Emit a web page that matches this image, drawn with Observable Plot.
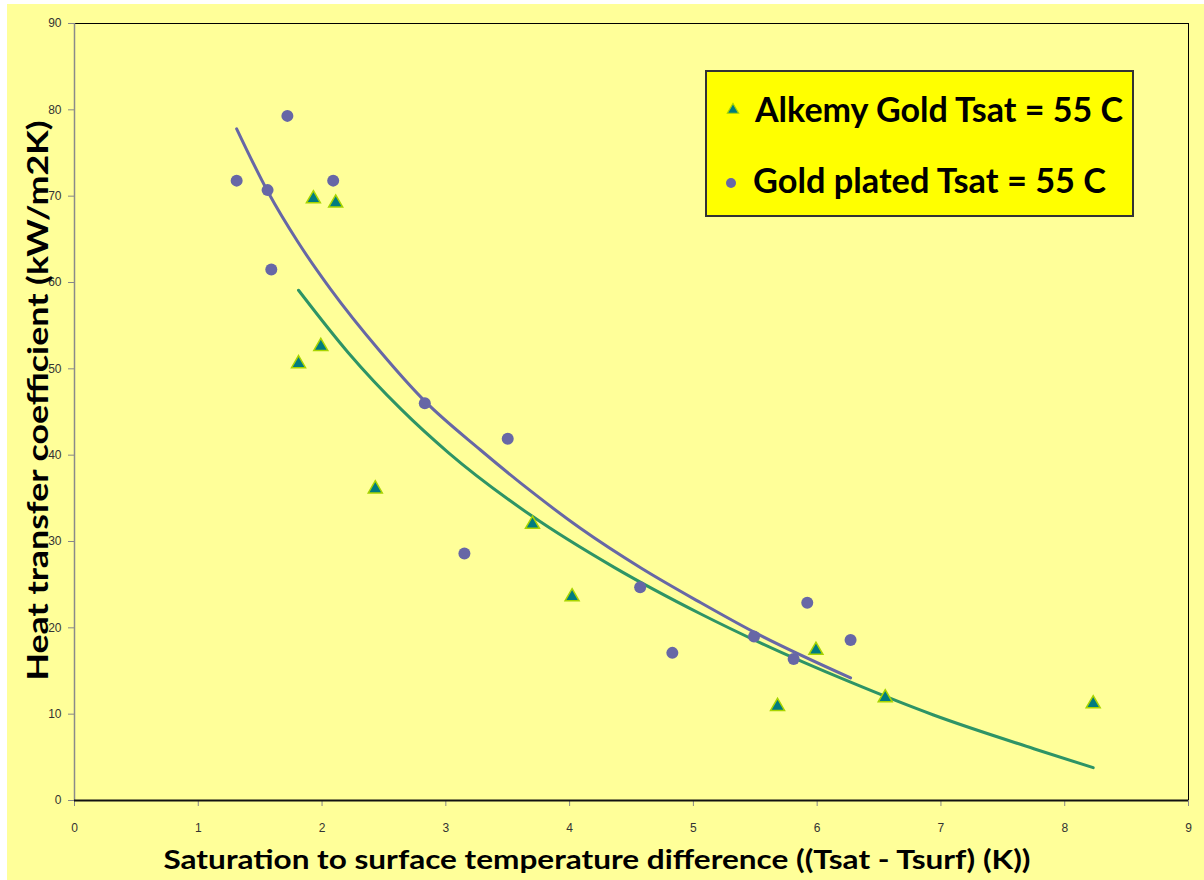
<!DOCTYPE html>
<html><head><meta charset="utf-8">
<script src="https://cdn.jsdelivr.net/npm/d3@7"></script>
<script src="https://cdn.jsdelivr.net/npm/@observablehq/plot@0.6"></script>
<style>
body{margin:0;background:#fff;}
#wrap{position:relative;width:1204px;height:880px;overflow:hidden;}
#bg{position:absolute;left:7px;top:4px;right:0;bottom:0;background:#FFFF99;}
#chart{position:absolute;left:0;top:0;}
#legend{position:absolute;left:0;top:0;pointer-events:none;}
</style></head><body>
<div id="wrap"><div id="bg"></div><div id="chart"></div>
<svg id="legend" width="1204" height="880"></svg></div>
<script>
// ---- data ----
const xTitle = "Saturation to surface temperature difference ((Tsat - Tsurf) (K))";
const yTitle = "Heat transfer coefficient (kW/m2K)";
const seriesNames = ["Alkemy Gold Tsat = 55 C", "Gold plated Tsat = 55 C"];
const xTicks = [0,1,2,3,4,5,6,7,8,9];
const yTicks = [0,10,20,30,40,50,60,70,80,90];

// Gold plated (circles)
const goldX = [1.31,1.72,1.56,1.59,2.09,2.83,3.50,3.15,4.57,4.83,5.49,5.81,5.92,6.27];
const goldY = [71.8,79.3,70.7,61.5,71.8,46.0,41.9,28.6,24.7,17.1,19.0,16.4,22.9,18.6];
// Alkemy Gold (triangles)
const alkX = [1.93,2.11,1.81,1.99,2.43,3.70,4.02,5.68,5.99,6.55,8.23];
const alkY = [69.7,69.2,50.6,52.6,36.1,32.0,23.6,10.9,17.4,11.9,11.2];

// Trend lines
const goldTrendX = [1.31,1.57,1.80,2.07,2.47,2.82,3.28,3.69,4.09,4.58,5.06,5.49,6.27];
const goldTrendY = [77.8,70.3,64.8,59.2,52.0,46.4,40.6,35.8,31.5,26.9,22.9,19.5,14.2];
const alkTrendX = [1.81,2.21,2.64,3.02,3.69,4.36,5.06,5.55,6.27,6.94,7.75,8.23];
const alkTrendY = [59.1,51.9,45.3,40.3,33.0,27.0,21.6,18.2,13.7,9.9,6.0,3.8];

const toRows = (xs, ys) => xs.map((x, i) => ({x, y: ys[i]}));
const gold = toRows(goldX, goldY);
const alk = toRows(alkX, alkY);
const goldTrend = toRows(goldTrendX, goldTrendY);
const alkTrend = toRows(alkTrendX, alkTrendY);

const purple = "#6767A6";
const green = "#2E9466";
const teal = "#007C80";
const lime = "#A8D400";

const plot = Plot.plot({
  width: 1204, height: 880,
  marginLeft: 74, marginRight: 16, marginTop: 23, marginBottom: 80,
  style: {background: "transparent", fontFamily: "'Liberation Sans', Arial, sans-serif", overflow: "visible"},
  x: {domain: [0, 9]},
  y: {domain: [0, 90]},
  marks: [
    Plot.frame({stroke: "#000", strokeWidth: 1}),
    Plot.axisX({ticks: xTicks, tickSize: 6, tickPadding: 17, fontSize: 12, color: "#333", stroke: "#888", label: null, tickFormat: d => d}),
    Plot.axisY({ticks: yTicks, tickSize: 6, tickPadding: 7, fontSize: 12, color: "#333", stroke: "#888", label: null, tickFormat: d => d}),
    Plot.ruleX([0], {stroke: "#8a8a8a", strokeWidth: 1.5}),
    Plot.ruleY([0], {stroke: "#111", strokeWidth: 2}),
    Plot.line(goldTrend, {x: "x", y: "y", stroke: purple, strokeWidth: 3, curve: "monotone-x"}),
    Plot.line(alkTrend, {x: "x", y: "y", stroke: green, strokeWidth: 3, curve: "monotone-x"}),
    Plot.dot(gold, {x: "x", y: "y", r: 6, fill: purple, symbol: "circle"}),
    Plot.dot(alk, {x: "x", y: "y", r: 5.2, symbol: "triangle", fill: teal, stroke: lime, strokeWidth: 1.5}),
    Plot.text([xTitle], {text: d => d, frameAnchor: "bottom", dx: -34.5, dy: 68, lineAnchor: "bottom", textAnchor: "middle",
      fontSize: 26, fontWeight: "bold", fontFamily: "Lato, 'Open Sans', sans-serif", fill: "#000", className: "xtitle"}),
    Plot.text([yTitle], {text: d => d, frameAnchor: "left", rotate: -90, dx: -27, dy: -11.5, lineAnchor: "bottom", textAnchor: "middle",
      fontSize: 28, fontWeight: "bold", fontFamily: "Lato, 'Open Sans', sans-serif", fill: "#000", className: "ytitle"})
  ]
});
document.getElementById("chart").appendChild(plot);

const fit = (sel, len) => plot.querySelectorAll(sel + " text").forEach(t => {
  t.setAttribute("textLength", len); t.setAttribute("lengthAdjust", "spacingAndGlyphs");
});
fit(".xtitle", 867);
fit(".ytitle", 560);

// ---- legend ----
const lg = d3.select("#legend");
lg.append("rect").attr("x", 706).attr("y", 71).attr("width", 427).attr("height", 145)
  .attr("fill", "#FFFF00").attr("stroke", "#333").attr("stroke-width", 2);
lg.append("path").attr("d", d3.symbol(d3.symbolTriangle, Math.PI * 4.2 * 4.2)())
  .attr("transform", "translate(733,110)").attr("fill", teal).attr("stroke", lime).attr("stroke-width", 1.2);
lg.append("circle").attr("cx", 731).attr("cy", 183).attr("r", 5).attr("fill", purple);
const legendText = [[755, 122, 368], [753, 193, 353]];
seriesNames.forEach((name, i) => {
  const [x, y, len] = legendText[i];
  lg.append("text").attr("x", x).attr("y", y).text(name)
    .attr("font-family", "Lato, 'Open Sans', sans-serif").attr("font-weight", "bold").attr("font-size", 34)
    .attr("textLength", len).attr("lengthAdjust", "spacingAndGlyphs").attr("fill", "#000");
});
</script>
</body></html>
